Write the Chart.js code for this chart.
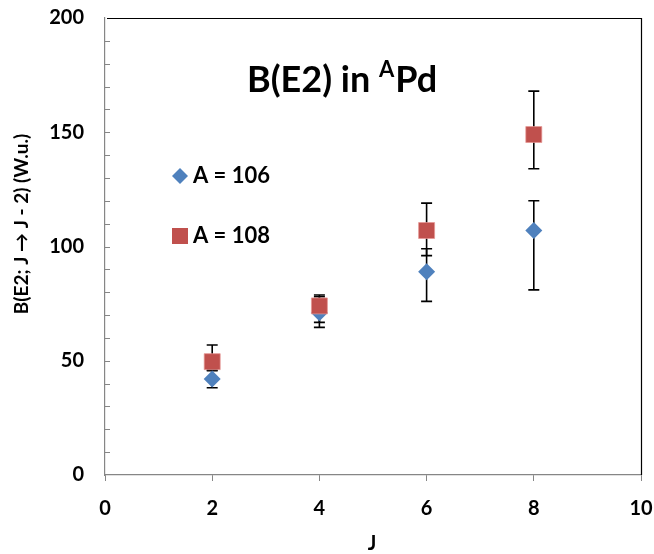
<!DOCTYPE html>
<html>
<head>
<meta charset="utf-8">
<script src="https://cdn.jsdelivr.net/npm/chart.js@4.4.1/dist/chart.umd.min.js"></script>
<style>
    html, body { margin: 0; padding: 0; background: #fff; }
    #wrap { width: 654px; height: 554px; }
</style>
</head>
<body>
<div id="wrap"><canvas id="chart-be2" width="654" height="554"></canvas></div>
<script>
// espines J
const J_VALUES = [2, 4, 6, 8];

// A = 106
const BE2_106 = [42, 71, 89, 107];
const ERR_106_UP = [4, 7, 10, 13];
const ERR_106_DOWN = [3.8, 6.4, 13, 26];

// A = 108
const BE2_108 = [49.6, 74, 107, 149];
const ERR_108_UP = [7.3, 4.8, 12, 19];
const ERR_108_DOWN = [4, 7.2, 11, 15];

const X_TICKS = [0, 2, 4, 6, 8, 10];
const Y_TICKS = [0, 50, 100, 150, 200];

const AXIS_GRAY = '#868686';
const BLUE = '#4F81BD';
const RED = '#C0504D';
const FONT = 'Lato, "Open Sans", sans-serif';

// barras de error asimetricas, dibujadas con las escalas del grafico
const errorBars = {
    id: 'errorBars',
    beforeDatasetsDraw(chart) {
        const { ctx, scales: { x, y } } = chart;
        ctx.save();
        ctx.strokeStyle = '#000';
        ctx.lineWidth = 1.6;
        chart.data.datasets.forEach(ds => {
            ds.data.forEach((p, i) => {
                const px = x.getPixelForValue(p.x);
                const top = y.getPixelForValue(p.y + ds.errUp[i]);
                const bot = y.getPixelForValue(p.y - ds.errDown[i]);
                ctx.beginPath();
                ctx.moveTo(px, top); ctx.lineTo(px, bot);
                ctx.moveTo(px - 5.5, top); ctx.lineTo(px + 5.5, top);
                ctx.moveTo(px - 5.5, bot); ctx.lineTo(px + 5.5, bot);
                ctx.stroke();
            });
        });
        ctx.restore();
    }
};

// marco, marcas menores, titulo, leyenda y titulos de ejes
const decor = {
    id: 'decor',
    afterDraw(chart) {
        const { ctx, chartArea: a, scales: { y } } = chart;
        ctx.save();

        // borde superior y derecho
        ctx.strokeStyle = '#000';
        ctx.lineWidth = 1.2;
        ctx.beginPath();
        ctx.moveTo(a.left + 2, a.top + 0.5);
        ctx.lineTo(a.right + 0.5, a.top + 0.5);
        ctx.lineTo(a.right + 0.5, a.bottom);
        ctx.stroke();

        // marcas del eje y hacia adentro cada 10
        ctx.strokeStyle = AXIS_GRAY;
        ctx.lineWidth = 1;
        ctx.beginPath();
        for (let v = 10; v < 200; v += 10) {
            const py = Math.round(y.getPixelForValue(v)) + 0.5;
            ctx.moveTo(a.left, py);
            ctx.lineTo(a.left + 5, py);
        }
        ctx.stroke();

        ctx.fillStyle = '#000';
        ctx.textBaseline = 'alphabetic';

        // titulo con superindice
        let tx = 247;
        const ty = 92;
        ctx.font = 'bold 36px ' + FONT;
        ctx.fillText('B(E2) in ', tx, ty);
        tx += ctx.measureText('B(E2) in ').width;
        ctx.font = 'bold 22px ' + FONT;
        ctx.fillText('A', tx, ty - 15);
        tx += ctx.measureText('A').width + 1;
        ctx.font = 'bold 36px ' + FONT;
        ctx.fillText('Pd', tx, ty);

        // leyenda
        ctx.fillStyle = BLUE;
        ctx.beginPath();
        ctx.moveTo(180, 176 - 8);
        ctx.lineTo(188, 176);
        ctx.lineTo(180, 176 + 8);
        ctx.lineTo(172, 176);
        ctx.closePath();
        ctx.fill();
        ctx.fillStyle = RED;
        ctx.fillRect(172, 228, 16, 16);

        ctx.fillStyle = '#000';
        ctx.font = 'bold 22px ' + FONT;
        ctx.fillText('A = 106', 193, 183);
        ctx.fillText('A = 108', 193, 243);

        // titulos de ejes
        ctx.font = 'bold 20px ' + FONT;
        ctx.textAlign = 'center';
        ctx.textBaseline = 'middle';
        ctx.fillText('J', 372, 544);
        ctx.font = 'bold 19px ' + FONT;
        ctx.translate(22, 224);
        ctx.rotate(-Math.PI / 2);
        ctx.fillText('B(E2; J \u2192 J - 2) (W.u.)', 0, 0);

        ctx.restore();
    }
};

const toPoints = (vals) => vals.map((v, i) => ({ x: J_VALUES[i], y: v }));

// quitar el relleno automatico de las etiquetas para fijar el area del grafico
const noPad = (s) => {
    s.paddingTop = 0;
    s.paddingBottom = 0;
    s.paddingLeft = 0;
    s.paddingRight = 0;
};

new Chart(document.getElementById('chart-be2'), {
    type: 'scatter',
    data: {
        datasets: [
            {
                label: 'A = 106',
                data: toPoints(BE2_106),
                errUp: ERR_106_UP,
                errDown: ERR_106_DOWN,
                pointStyle: 'rectRot',
                pointRadius: 8.5,
                backgroundColor: BLUE,
                borderColor: BLUE,
                borderWidth: 0,
                order: 1,
            },
            {
                label: 'A = 108',
                data: toPoints(BE2_108),
                errUp: ERR_108_UP,
                errDown: ERR_108_DOWN,
                pointStyle: 'rect',
                pointRadius: 11.3,
                backgroundColor: RED,
                borderColor: 'rgba(230,150,148,0.9)',
                borderWidth: 0.8,
                order: 0,
            }
        ]
    },
    options: {
        responsive: false,
        animation: false,
        layout: { padding: { left: 0, right: 13, top: 18, bottom: 0 } },
        plugins: {
            legend: { display: false },
            tooltip: { enabled: false }
        },
        scales: {
            x: {
                type: 'linear',
                min: 0,
                max: 10,
                afterFit: (s) => { s.height = 79; noPad(s); },
                afterBuildTicks: (s) => { s.ticks = X_TICKS.map(v => ({ value: v })); },
                ticks: {
                    padding: 16,
                    color: '#000',
                    font: { family: FONT, size: 20, weight: 'bold' }
                },
                grid: { drawOnChartArea: false, tickLength: 6, color: AXIS_GRAY },
                border: { color: AXIS_GRAY, width: 1.2 }
            },
            y: {
                type: 'linear',
                min: 0,
                max: 200,
                afterFit: (s) => { s.width = 105; noPad(s); },
                afterBuildTicks: (s) => { s.ticks = Y_TICKS.map(v => ({ value: v })); },
                ticks: {
                    padding: 21,
                    color: '#000',
                    font: { family: FONT, size: 20, weight: 'bold' }
                },
                grid: { display: false, drawTicks: false },
                border: { color: AXIS_GRAY, width: 1.2 }
            }
        }
    },
    plugins: [errorBars, decor]
});
</script>
</body>
</html>
